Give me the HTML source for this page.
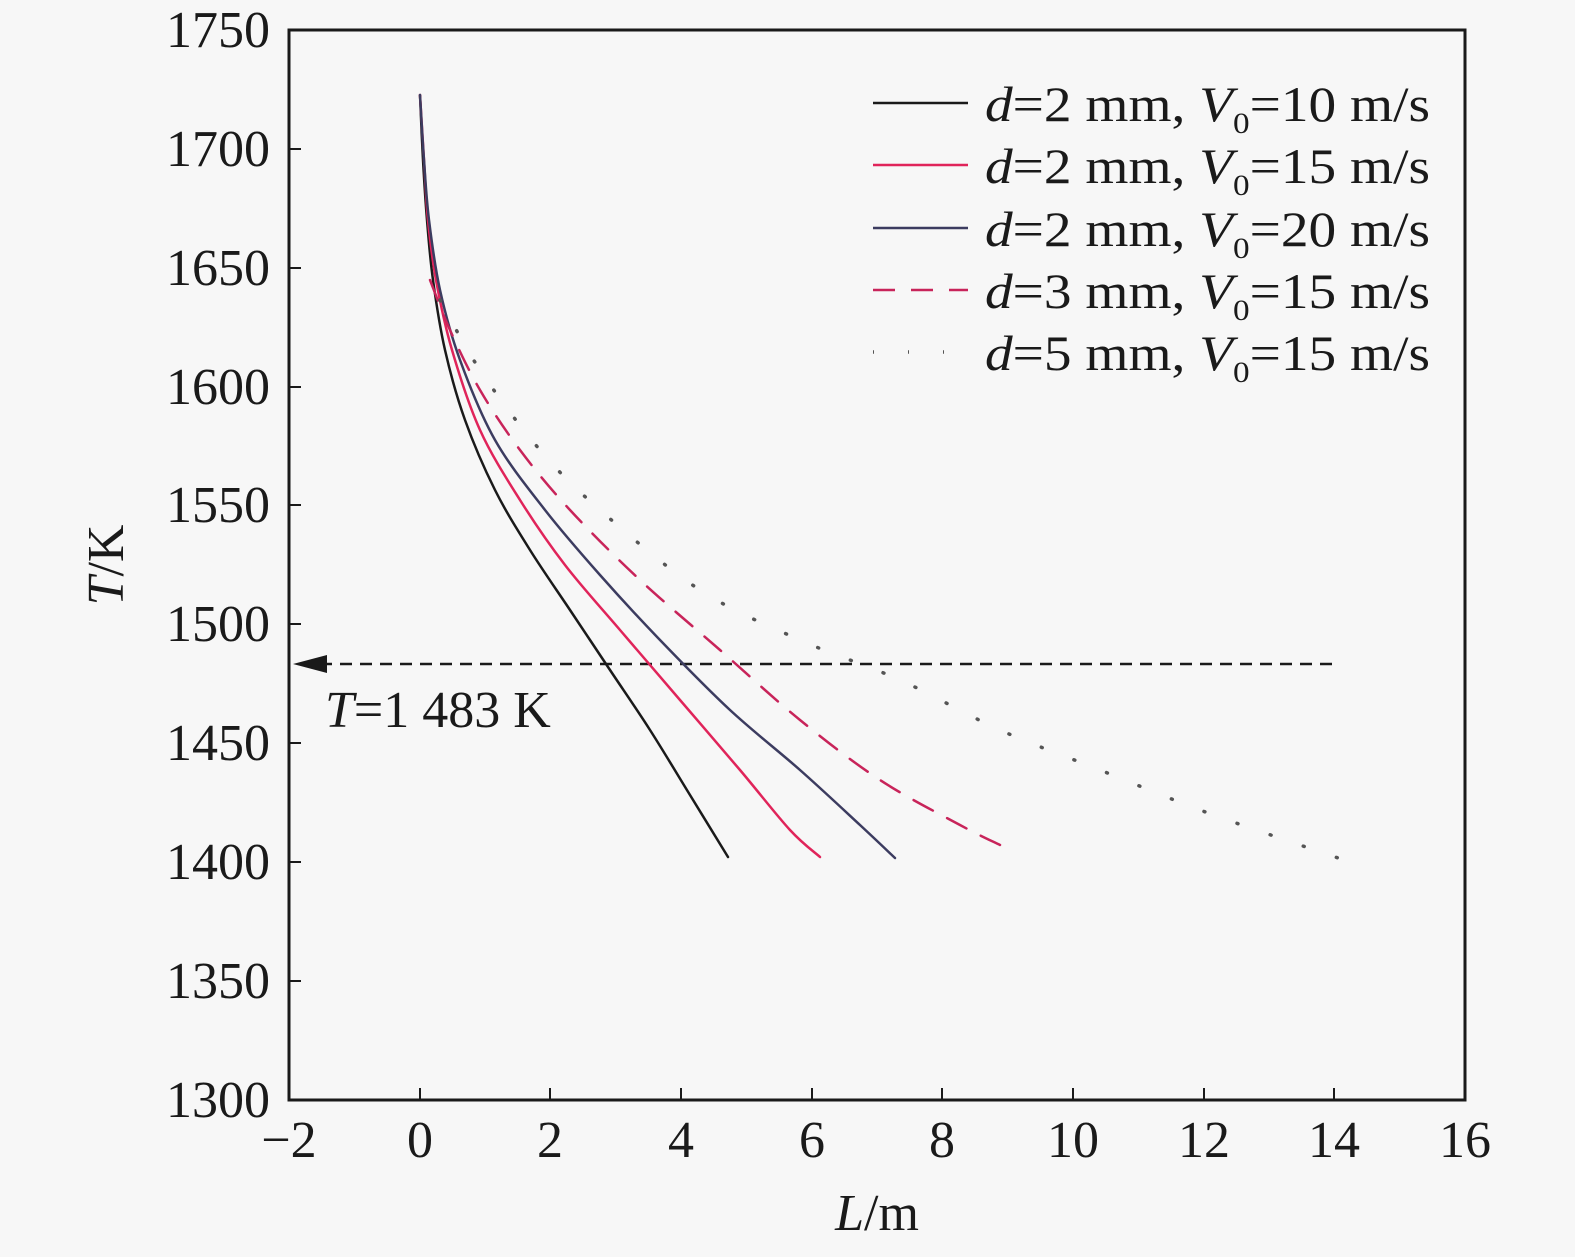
<!DOCTYPE html>
<html><head><style>body{margin:0;background:#f7f7f7}</style></head><body>
<svg id="s" width="1575" height="1252" xmlns="http://www.w3.org/2000/svg" font-family="Liberation Serif, serif" fill="#1a1a1a">
<rect width="1575" height="1252" fill="#f7f7f7"/>
<rect x="289" y="30" width="1176" height="1070" fill="none" stroke="#1a1a1a" stroke-width="3"/>
<g stroke="#1a1a1a" stroke-width="2">
<line x1="420" y1="1100" x2="420" y2="1088"/><line x1="550" y1="1100" x2="550" y2="1088"/><line x1="681" y1="1100" x2="681" y2="1088"/><line x1="812" y1="1100" x2="812" y2="1088"/><line x1="942" y1="1100" x2="942" y2="1088"/><line x1="1073" y1="1100" x2="1073" y2="1088"/><line x1="1204" y1="1100" x2="1204" y2="1088"/><line x1="1334" y1="1100" x2="1334" y2="1088"/>
<line x1="289" y1="981" x2="301" y2="981"/><line x1="289" y1="862" x2="301" y2="862"/><line x1="289" y1="743" x2="301" y2="743"/><line x1="289" y1="624" x2="301" y2="624"/><line x1="289" y1="505" x2="301" y2="505"/><line x1="289" y1="387" x2="301" y2="387"/><line x1="289" y1="268" x2="301" y2="268"/><line x1="289" y1="149" x2="301" y2="149"/>
</g>
<g font-size="52" text-anchor="end">
<text x="270" y="1117">1300</text><text x="270" y="998">1350</text><text x="270" y="879">1400</text><text x="270" y="760">1450</text><text x="270" y="641">1500</text><text x="270" y="522">1550</text><text x="270" y="404">1600</text><text x="270" y="285">1650</text><text x="270" y="166">1700</text><text x="270" y="47">1750</text>
</g>
<g font-size="52" text-anchor="middle">
<text x="289" y="1157">−2</text><text x="420" y="1157">0</text><text x="550" y="1157">2</text><text x="681" y="1157">4</text><text x="812" y="1157">6</text><text x="942" y="1157">8</text><text x="1073" y="1157">10</text><text x="1204" y="1157">12</text><text x="1334" y="1157">14</text><text x="1465" y="1157">16</text>
<text x="877" y="1230"><tspan font-style="italic">L</tspan>/m</text>
</g>
<text font-size="52" transform="translate(123,565) rotate(-90)" text-anchor="middle"><tspan font-style="italic">T</tspan>/K</text>
<line x1="320" y1="664" x2="1337" y2="664" stroke="#1a1a1a" stroke-width="2.5" stroke-dasharray="12,8"/>
<polygon points="293,664 327,655 327,673" fill="#1a1a1a"/>
<text x="325" y="727" font-size="52"><tspan font-style="italic">T</tspan>=1 483 K</text>
<g fill="none" stroke-width="2.5" stroke-linejoin="round" stroke-linecap="round">
<path id="c1" stroke="#1a1a1a"/>
<path id="c2" stroke="#e0245a"/>
<path id="c3" stroke="#3c3c60"/>
<path id="c4" stroke="#c8245a" stroke-dasharray="22,16"/>
<path id="c5" stroke="#555" stroke-width="3.5" stroke-dasharray="1,34"/>
</g>
<g stroke-width="2.5">
<line x1="873" y1="103" x2="968" y2="103" stroke="#1a1a1a"/>
<line x1="873" y1="165" x2="968" y2="165" stroke="#e0245a"/>
<line x1="873" y1="228" x2="968" y2="228" stroke="#3c3c60"/>
<line x1="873" y1="290" x2="968" y2="290" stroke="#c8245a" stroke-dasharray="22,16"/>
<line x1="873" y1="352" x2="968" y2="352" stroke="#555" stroke-width="3.5" stroke-dasharray="1,34"/>
</g>
<g font-size="50">
<text x="985" y="121" textLength="445" lengthAdjust="spacingAndGlyphs"><tspan font-style="italic">d</tspan>=2 mm, <tspan font-style="italic">V</tspan><tspan font-size="30" dy="12">0</tspan><tspan dy="-12">=10 m/s</tspan></text>
<text x="985" y="183" textLength="445" lengthAdjust="spacingAndGlyphs"><tspan font-style="italic">d</tspan>=2 mm, <tspan font-style="italic">V</tspan><tspan font-size="30" dy="12">0</tspan><tspan dy="-12">=15 m/s</tspan></text>
<text x="985" y="246" textLength="445" lengthAdjust="spacingAndGlyphs"><tspan font-style="italic">d</tspan>=2 mm, <tspan font-style="italic">V</tspan><tspan font-size="30" dy="12">0</tspan><tspan dy="-12">=20 m/s</tspan></text>
<text x="985" y="308" textLength="445" lengthAdjust="spacingAndGlyphs"><tspan font-style="italic">d</tspan>=3 mm, <tspan font-style="italic">V</tspan><tspan font-size="30" dy="12">0</tspan><tspan dy="-12">=15 m/s</tspan></text>
<text x="985" y="370" textLength="445" lengthAdjust="spacingAndGlyphs"><tspan font-style="italic">d</tspan>=5 mm, <tspan font-style="italic">V</tspan><tspan font-size="30" dy="12">0</tspan><tspan dy="-12">=15 m/s</tspan></text>
</g>
</svg>
<script>
function cr(p){var d="M"+p[0][0]+","+p[0][1];for(var i=0;i<p.length-1;i++){var a=p[i-1]||p[i],b=p[i],c=p[i+1],e=p[i+2]||c;d+=" C"+(b[0]+(c[0]-a[0])/6)+","+(b[1]+(c[1]-a[1])/6)+" "+(c[0]-(e[0]-b[0])/6)+","+(c[1]-(e[1]-b[1])/6)+" "+c[0]+","+c[1];}return d;}
var P={
c1:[[420,95],[423,160],[427,220],[433,280],[445,350],[465,420],[495,490],[530,550],[570,610],[610,670],[650,730],[690,795],[728,857]],
c2:[[420,95],[424,160],[428,220],[436,280],[452,350],[480,430],[520,500],[565,565],[620,630],[680,700],[740,770],[790,830],[820,857]],
c3:[[420,95],[424,160],[429,220],[440,290],[460,360],[495,440],[545,510],[600,575],[660,640],[730,710],[800,770],[860,825],[895,858]],
c4:[[430,280],[450,330],[480,390],[520,450],[570,510],[640,580],[720,650],[800,720],[880,780],[960,825],[1000,845]],
c5:[[440,300],[480,370],[540,450],[600,510],[700,590],[800,640],[900,680],[1000,730],[1100,770],[1200,810],[1300,845],[1350,862]]};
for(var k in P)document.getElementById(k).setAttribute("d",cr(P[k]));
</script>
</body></html>
